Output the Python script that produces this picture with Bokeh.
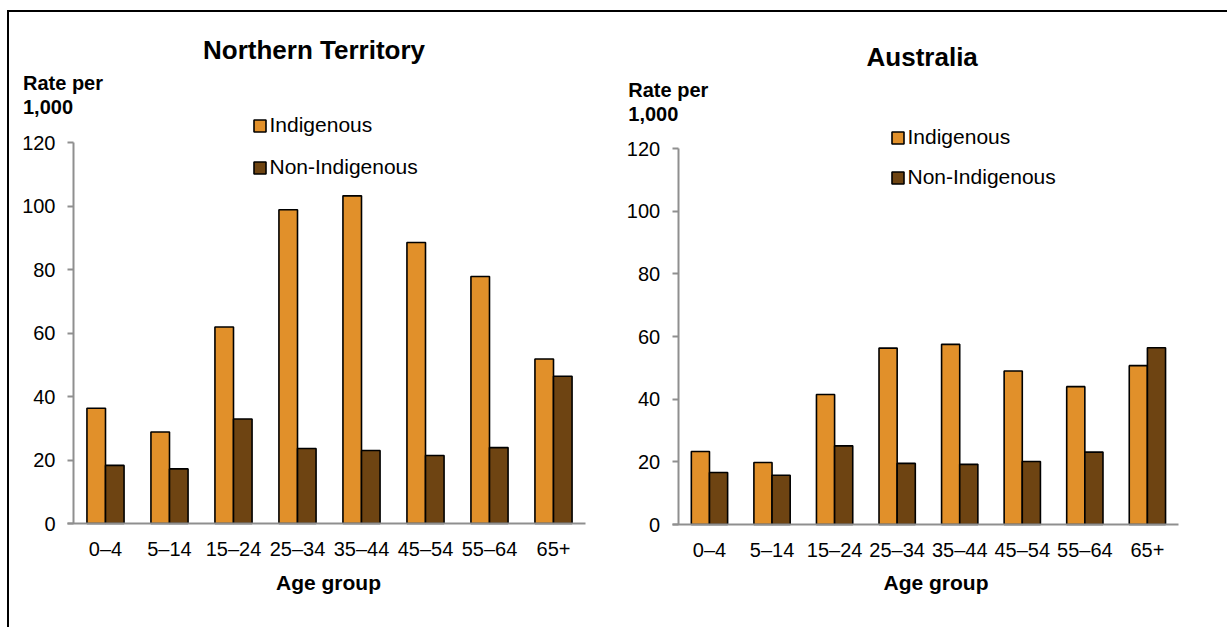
from bokeh.plotting import figure
from bokeh.models import Label, Legend, LegendItem, ColumnDataSource, Range1d, FixedTicker
from bokeh.layouts import row
from bokeh.embed import file_html
from bokeh.resources import INLINE

# ---------------- data ----------------
age_groups = ["0–4", "5–14", "15–24", "25–34", "35–44", "45–54", "55–64", "65+"]
nt_indigenous = [36.3, 28.8, 61.9, 98.8, 103.2, 88.5, 77.8, 51.8]
nt_non_indigenous = [18.3, 17.2, 32.9, 23.6, 23.0, 21.4, 23.9, 46.4]
au_indigenous = [23.3, 19.8, 41.5, 56.3, 57.5, 49.0, 44.0, 50.7]
au_non_indigenous = [16.6, 15.7, 25.1, 19.5, 19.2, 20.1, 23.1, 56.4]
y_ticks = [0, 20, 40, 60, 80, 100, 120]
series_names = ["Indigenous", "Non-Indigenous"]
panel_titles = ["Northern Territory", "Australia"]

ORANGE = "#E1902A"
BROWN = "#6E4412"
AXIS = "#8f8f8f"
FONT = "Liberation Sans"
Y_MAX = 120
FIG_H = 615
TXT_SHIFT = 9  # vertical correction for label baselines


def make_panel(title, ind, non, fig_w, axis_px, cat_px, zero_px, unit_px,
               title_xy, rate_xy, legend_xy, legend_spacing, agegroup_xy):
    n = len(age_groups)
    x_range = Range1d(-axis_px / cat_px, (fig_w - axis_px) / cat_px)
    y_range = Range1d(-(FIG_H - zero_px) / unit_px, zero_px / unit_px)

    centers = [i + 0.5 for i in range(n)]
    src = ColumnDataSource(dict(
        x_ind=[c - 0.145 for c in centers], x_non=[c + 0.145 for c in centers],
        ind=ind, non=non))

    p = figure(x_range=x_range, y_range=y_range, width=fig_w, height=FIG_H,
               min_border=0, min_border_left=0, min_border_right=0,
               min_border_top=0, min_border_bottom=0,
               output_backend="svg", toolbar_location=None)
    p.title.visible = False
    r1 = p.vbar(x="x_ind", top="ind", width=0.29, source=src,
                fill_color=ORANGE, line_color="black", line_width=1.6)
    r2 = p.vbar(x="x_non", top="non", width=0.29, source=src,
                fill_color=BROWN, line_color="black", line_width=1.6)

    p.xgrid.visible = False
    p.ygrid.visible = False
    p.outline_line_color = None

    for ax in (p.xaxis[0], p.yaxis[0]):
        ax.axis_line_color = AXIS
        ax.axis_line_width = 2
        ax.major_tick_line_color = AXIS
        ax.major_tick_line_width = 2
        ax.minor_tick_line_color = None
        ax.major_label_text_font = FONT
        ax.major_label_text_font_size = "20px"
        ax.major_label_text_color = "black"

    p.yaxis.fixed_location = 0
    p.yaxis.bounds = (0, Y_MAX)
    p.yaxis.ticker = FixedTicker(ticks=y_ticks)
    p.yaxis.major_tick_in = 0
    p.yaxis.major_tick_out = 6
    p.yaxis.major_label_standoff = 12

    p.xaxis.fixed_location = 0
    p.xaxis.bounds = (-0.095, n)
    p.xaxis.ticker = FixedTicker(ticks=centers)
    p.xaxis.major_label_overrides = {c: g for c, g in zip(centers, age_groups)}
    p.xaxis.major_tick_in = 0
    p.xaxis.major_tick_out = 0
    p.xaxis.major_label_standoff = 14

    def lab(x, y, text, size, align="left"):
        p.add_layout(Label(x=x, y=y + TXT_SHIFT, x_units="screen", y_units="screen",
                           text=text, text_font=FONT, text_font_size=size,
                           text_font_style="bold", text_align=align,
                           text_baseline="alphabetic", text_color="black"))

    lab(title_xy[0], title_xy[1], title, "26px", align="center")
    lab(rate_xy[0], rate_xy[1], "Rate per", "20px")
    lab(rate_xy[0], rate_xy[1] - 24, "1,000", "20px")
    lab(agegroup_xy[0], agegroup_xy[1], "Age group", "21px", align="center")

    legend = Legend(items=[LegendItem(label=series_names[0], renderers=[r1]),
                           LegendItem(label=series_names[1], renderers=[r2])],
                    location=legend_xy, orientation="vertical",
                    glyph_width=15, glyph_height=15, label_standoff=3,
                    label_text_font=FONT, label_text_font_size="21px",
                    label_text_color="black",
                    spacing=legend_spacing, padding=0, margin=0,
                    border_line_color=None, background_fill_alpha=0)
    p.add_layout(legend)
    return p


# left figure spans page x 9..605, right 605..1227, both y 12..627
left = make_panel(panel_titles[0], nt_indigenous, nt_non_indigenous,
                  596, 64, 64, 511, 381 / 120,
                  (304.5, 568.7), (13.5, 536), (242.5, 448), 18, (319, 36))
right = make_panel(panel_titles[1], au_indigenous, au_non_indigenous,
                   622, 72.7, 62.56, 512, 376 / 120,
                   (316.7, 562), (22.8, 528.7), (284.5, 438), 16, (330.5, 36))

layout = row(left, right, margin=(10, 0, 0, 7),
             styles={"border-left": "2px solid black", "border-top": "2px solid black"})

open("out.html", "w").write(file_html(layout, INLINE))
